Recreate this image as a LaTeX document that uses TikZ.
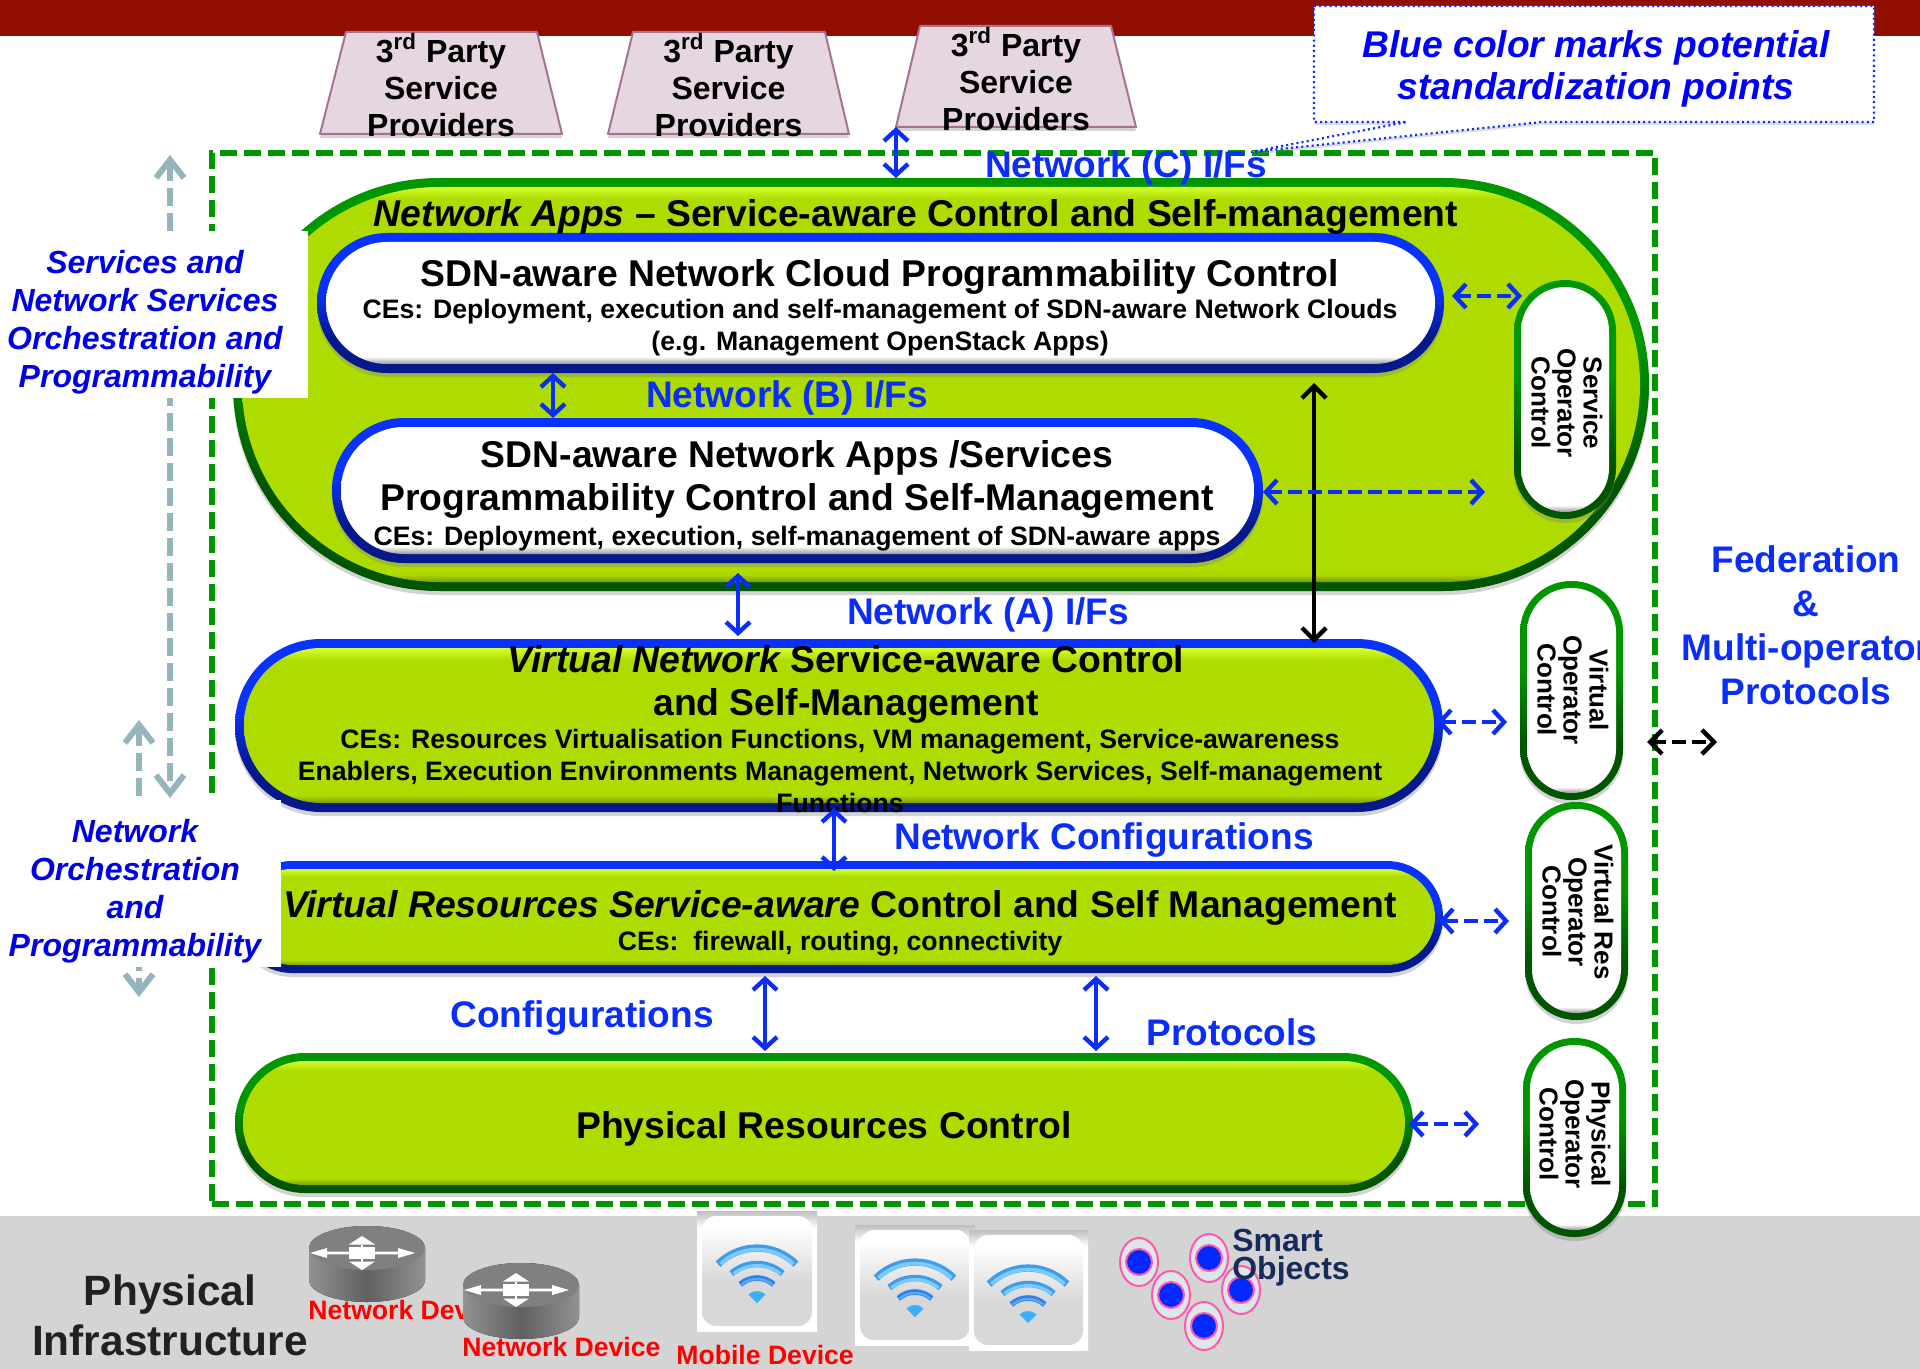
\documentclass[tikz,border=0pt]{standalone}
\usepackage{fontspec}
\setmainfont{Liberation Sans}
\usetikzlibrary{shapes.geometric,arrows.meta,shadows,calc}
\definecolor{banner}{RGB}{145,15,0}
\definecolor{rimbluetop}{RGB}{10,50,255}
\definecolor{rimbluebot}{RGB}{5,25,140}
\definecolor{rimgreentop}{RGB}{0,150,0}
\definecolor{rimgreenbot}{RGB}{0,85,0}
\definecolor{fillgreen}{RGB}{174,219,0}
\definecolor{lightgreen}{RGB}{214,255,45}
\definecolor{darkgreen}{RGB}{125,155,0}
\definecolor{labelblue}{RGB}{10,45,250}
\definecolor{deepblue}{RGB}{0,0,230}
\definecolor{graybar}{RGB}{212,212,212}
\definecolor{trapfill}{RGB}{230,214,223}
\definecolor{trapdraw}{RGB}{165,115,145}
\definecolor{grayarrow}{RGB}{150,180,190}
\definecolor{boxgreen}{RGB}{0,150,0}
\definecolor{smartpink}{RGB}{255,90,170}
\definecolor{smartpale}{RGB}{220,230,235}
\definecolor{smartblue}{RGB}{0,40,255}
\definecolor{navy}{RGB}{23,43,90}
\definecolor{wifia}{RGB}{63,155,235}
\definecolor{wifib}{RGB}{124,203,255}
\definecolor{wific}{RGB}{47,127,232}
\definecolor{wifid}{RGB}{91,166,245}
\definecolor{wifie}{RGB}{60,175,250}
\definecolor{tilelow}{RGB}{216,216,216}
\definecolor{tilebgtop}{RGB}{190,190,190}
\definecolor{whiteedge}{RGB}{150,150,150}
\pgfdeclareverticalshading{rimblue}{100bp}{color(0bp)=(rimbluebot); color(25bp)=(rimbluebot); color(38bp)=(rimbluebot); color(55bp)=(rimbluetop); color(75bp)=(rimbluetop); color(100bp)=(rimbluetop)}
\pgfdeclareverticalshading{rimgreen}{100bp}{color(0bp)=(rimgreenbot); color(25bp)=(rimgreenbot); color(38bp)=(rimgreenbot); color(55bp)=(rimgreentop); color(75bp)=(rimgreentop); color(100bp)=(rimgreentop)}
\pgfdeclareverticalshading{greenbig}{100bp}{color(0bp)=(darkgreen); color(25bp)=(darkgreen); color(26bp)=(fillgreen); color(73.5bp)=(fillgreen); color(75bp)=(lightgreen); color(100bp)=(lightgreen)}
\pgfdeclareverticalshading{greensmall}{100bp}{color(0bp)=(darkgreen); color(25bp)=(darkgreen); color(27.5bp)=(fillgreen); color(71bp)=(fillgreen); color(75bp)=(lightgreen); color(100bp)=(lightgreen)}
\pgfdeclareverticalshading{whitebev}{100bp}{color(0bp)=(whiteedge); color(25bp)=(whiteedge); color(28bp)=(white); color(75bp)=(white); color(100bp)=(white)}
\pgfdeclareverticalshading{whitetall}{100bp}{color(0bp)=(whiteedge); color(25bp)=(whiteedge); color(26.5bp)=(white); color(75bp)=(white); color(100bp)=(white)}
\pgfdeclareverticalshading{tileface}{100bp}{color(0bp)=(tilelow); color(25bp)=(tilelow); color(45bp)=(tilelow); color(70bp)=(white); color(100bp)=(white)}
\pgfdeclareverticalshading{tileback}{100bp}{color(0bp)=(white); color(68bp)=(white); color(75bp)=(tilebgtop); color(100bp)=(tilebgtop)}
\tikzset{
  capbase/.style={rectangle,inner sep=0pt,outer sep=0pt,shade},
  softshadow/.style={drop shadow={shadow xshift=0pt,shadow yshift=-2pt,opacity=.35}},
  heading/.style={font=\fontsize{18.65}{21.5}\selectfont\bfseries,inner sep=0pt,align=center},
  bodytext/.style={font=\fontsize{13.33}{16}\selectfont\bfseries,inner sep=0pt,align=center},
  bluelabel/.style={font=\fontsize{18.5}{21}\selectfont\bfseries,text=labelblue,inner sep=0pt,align=center},
  sidelabel/.style={font=\fontsize{16}{19}\selectfont\bfseries\itshape,text=deepblue,inner sep=0pt,align=center},
  optext/.style={font=\fontsize{13}{13}\selectfont\bfseries,inner sep=0pt,align=center,rotate=-90},
  traptext/.style={font=\fontsize{16}{18.5}\selectfont\bfseries,inner sep=0pt,align=center},
  devlabel/.style={font=\fontsize{13.3}{15}\selectfont\bfseries,text=red,inner sep=0pt,anchor=west},
  trapshape/.style={fill=trapfill,draw=trapdraw,line width=1pt,line join=round,drop shadow={shadow xshift=0pt,shadow yshift=-2pt,opacity=.35}},
  whitepatch/.style={rectangle,fill=white,inner sep=0pt,outer sep=0pt},
  bluedbl/.style={draw=labelblue,line width=2.4pt,{Straight Barb[length=5.5pt,width=12pt,line width=2.2pt]}-{Straight Barb[length=5.5pt,width=12pt,line width=2.2pt]}},
  bluedash/.style={bluedbl,dash pattern=on 7pt off 3pt},
  blackdbl/.style={draw=black,line width=2.2pt,{Straight Barb[length=6pt,width=12pt,line width=2.2pt]}-{Straight Barb[length=6pt,width=12pt,line width=2.2pt]}},
  blackdash/.style={blackdbl,dash pattern=on 7pt off 3pt},
  grayarr/.style={draw=grayarrow,line width=3.2pt,dash pattern=on 9pt off 3.5pt,{Straight Barb[length=9pt,width=14pt,line width=3pt]}-{Straight Barb[length=9pt,width=14pt,line width=3pt]}},
  router/.pic={
    \fill[left color=black!43,right color=black!43,middle color=black!62] (-58,0) -- (-58,32) arc[start angle=180,end angle=0,x radius=58,y radius=22] -- (58,0) arc[start angle=0,end angle=-180,x radius=58,y radius=22] -- cycle;
    \fill[black!50] (0,0) ellipse [x radius=58,y radius=22];
    \fill[white] (-57,5) -- (-40,0) -- (-40,3.7) -- (31,3.7) -- (31,0) -- (48,5) -- (31,10) -- (31,6.3) -- (-40,6.3) -- (-40,10) -- cycle;
    \fill[white] (-5,-12) -- (8,-3.5) -- (-18,-3.5) -- cycle;
    \fill[white] (-5,22) -- (8,13.5) -- (-18,13.5) -- cycle;
    \fill[white] (-6,-3.5) rectangle (-4,13.5);
    \fill[white] (-18,-1) rectangle (8,11);
  },
  wifi/.pic={
    \draw[wifia,line width=3.6pt] (-135:55) arc[start angle=-135,end angle=-45,radius=55];
    \draw[wifib,line width=1.8pt] (-133:53.5) arc[start angle=-133,end angle=-47,radius=53.5];
    \draw[wifia,line width=3.2pt] (-131:39) arc[start angle=-131,end angle=-49,radius=39];
    \draw[wifib,line width=1.5pt] (-129:37.5) arc[start angle=-129,end angle=-51,radius=37.5];
    \draw[wific,line width=2.8pt] (-132:25) arc[start angle=-132,end angle=-48,radius=25];
    \draw[wifid,line width=1.2pt] (-130:24) arc[start angle=-130,end angle=-50,radius=24];
    \fill[wifie] (0,0) -- (-135:12) arc[start angle=-135,end angle=-45,radius=12] -- cycle;
  },
  smartobj/.pic={
    \draw[smartpink,fill=smartpale,line width=1pt] (0,0) ellipse [x radius=19,y radius=24];
    \draw[smartpink,fill=smartblue,line width=1pt] (0,0) circle [radius=13];
  }
}
\newcommand\capsule[9]{%
  \pgfmathsetmacro\capcx{(#2+#4)/2}%
  \pgfmathsetmacro\capcy{(#3+#5)/2}%
  \node[capbase,shading=#8,softshadow,minimum width={(#4-(#2))*0.5pt},minimum height={(#5-(#3))*0.5pt},rounded corners={(#6)*0.5pt}] (#1) at (\capcx,\capcy) {};
  \node[capbase,shading=#9,minimum width={(#4-(#2)-2*(#7))*0.5pt},minimum height={(#5-(#3)-2*(#7))*0.5pt},rounded corners={(#6-(#7))*0.5pt}] (#1in) at (\capcx,\capcy) {};
}
\newcommand\wifitile[7]{%
  \node[capbase,shading=tileback,minimum width={(#4-(#2))*0.5pt},minimum height={(#5-(#3))*0.5pt}] (#1bg) at ({(#2+#4)/2},{(#3+#5)/2}) {};
  \node[capbase,shading=tileface,minimum width={(#4-(#2)-10)*0.5pt},minimum height={(#5-(#3)-10)*0.5pt},rounded corners=7pt] (#1) at ({(#2+#4)/2},{(#3+#5)/2}) {};
  \pic at (#6,#7) {wifi};
}
\begin{document}
\begin{tikzpicture}[x=0.5pt,y=-0.5pt]
\useasboundingbox (0,0) rectangle (1920,1369);
% background bands
\node[whitepatch,fill=banner,minimum width=960pt,minimum height=18pt] (bannerbar) at (960,18) {};
\node[whitepatch,fill=graybar,minimum width=960pt,minimum height=76.5pt] (groundbar) at (960,1292.5) {};

% orchestration arrows, behind the dashed frame and the white patches
\coordinate (svcTop) at (170,155);
\coordinate (svcBot) at (170,798);
\coordinate (netTop) at (139,720);
\coordinate (netBot) at (139,997);
\draw[grayarr] (svcTop) -- (svcBot);
\draw[grayarr] (netTop) -- (netBot);

% dashed frame
\node[rectangle,inner sep=0pt,outer sep=0pt,draw=boxgreen,line width=2.8pt,dash pattern=on 8.5pt off 3.5pt,minimum width=721.5pt,minimum height=525.5pt] (frame) at (933.5,678.5) {};

% third-party providers
\draw[trapshape] (346,32) -- (537,32) -- (562,134) -- (320,134) -- cycle;
\draw[trapshape] (633,32) -- (825,32) -- (849,134) -- (608,134) -- cycle;
\draw[trapshape] (920,26) -- (1111,26) -- (1136,127) -- (896,127) coordinate (t3corner) -- cycle;
\node[traptext] (t1txt) at (441,85) {3\textsuperscript{rd} Party\\Service\\Providers};
\node[traptext] (t2txt) at (728.5,85) {3\textsuperscript{rd} Party\\Service\\Providers};
\node[traptext] (t3txt) at (1016,79) {3\textsuperscript{rd} Party\\Service\\Providers};

% main blocks
\capsule{apps}{233}{178}{1649}{591}{206}{9}{rimgreen}{greenbig}
\capsule{sdn}{317}{233}{1444}{373}{70}{9}{rimblue}{whitebev}
\capsule{appsbox}{332}{418}{1263}{563}{72}{9}{rimblue}{whitebev}
\capsule{soc}{1514}{280}{1616}{519}{51}{7}{rimgreen}{whitetall}
\capsule{vn}{235}{639}{1443}{812}{86}{9}{rimblue}{greensmall}
\capsule{vr}{236}{861}{1443}{973}{56}{8}{rimblue}{greensmall}
\capsule{phys}{235}{1053}{1413}{1193}{70}{8}{rimgreen}{greensmall}
\capsule{voc}{1520}{581}{1623}{800}{51}{7}{rimgreen}{whitetall}
\capsule{vroc}{1525}{802}{1628}{1020}{51}{7}{rimgreen}{whitetall}
\capsule{poc}{1523}{1038}{1626}{1237}{51}{7}{rimgreen}{whitetall}

% white label patches
\node[whitepatch,minimum width=154pt,minimum height=83.5pt] (svcpatch) at (154,314.5) {};
\node[whitepatch,minimum width=140.5pt,minimum height=83.5pt] (netpatch) at (140.5,883.5) {};

% block texts
\node[heading] (appstitle) at (916,217) {{\itshape Network Apps} -- Service-aware Control and Self-management};
\node[heading] (sdnt) at (880,277) {SDN-aware Network Cloud Programmability Control};
\node[bodytext] (sdnb) at (880,328) {CEs: Deployment, execution and self-management of SDN-aware Network Clouds\\(e.g. Management OpenStack Apps)};
\node[heading] (appst) at (797,479) {SDN-aware Network Apps /Services\\Programmability Control and Self-Management};
\node[bodytext] (appsb) at (797,539) {CEs: Deployment, execution, self-management of SDN-aware apps};
\node[heading] (vnt) at (846,684) {{\itshape Virtual Network} Service-aware Control\\and Self-Management};
\node[bodytext] (vnb) at (840,771) {CEs: Resources Virtualisation Functions, VM management, Service-awareness\\Enablers, Execution Environments Management, Network Services, Self-management\\Functions};
\node[heading] (vrt) at (840,908) {{\itshape Virtual Resources Service-aware} Control and Self Management};
\node[bodytext] (vrb) at (840,944) {CEs:\ \ firewall, routing, connectivity};
\node[heading] (physt) at (824,1129) {Physical Resources Control};
\node[optext] (soct) at (1567,403) {Service\\Operator\\Control};
\node[optext] (voct) at (1573,690) {Virtual\\Operator\\Control};
\node[optext] (vroct) at (1578,912) {Virtual Res\\Operator\\Control};
\node[optext] (poct) at (1575,1134) {Physical\\Operator\\Control};

% vertical connectors
\coordinate (colB) at (553,0);
\coordinate (colA) at (738,0);
\coordinate (colN) at (834,0);
\coordinate (colC) at (765,0);
\coordinate (colP) at (1096,0);
\coordinate (colK) at (1314,0);
\draw[bluedbl] (t3corner) -- (t3corner |- apps.north);
\draw[bluedbl] (sdn.south -| colB) -- (appsbox.north -| colB);
\draw[bluedbl,shorten <=-9pt,shorten >=1.5pt] (apps.south -| colA) -- (vn.north -| colA);
\draw[bluedbl,shorten <=-2pt,shorten >=-5pt] (vn.south -| colN) -- (vr.north -| colN);
\draw[bluedbl,shorten <=1.5pt,shorten >=1pt] (vr.south -| colC) -- (phys.north -| colC);
\draw[bluedbl,shorten <=1.5pt,shorten >=1pt] (vr.south -| colP) -- (phys.north -| colP);
\draw[blackdbl,shorten <=5pt,shorten >=-2pt] (sdn.south -| colK) -- (vn.north -| colK);

% horizontal connectors
\coordinate (rowD1) at (0,296);
\coordinate (rowD2) at (0,492);
\coordinate (rowD3) at (0,722);
\coordinate (rowD4) at (0,921);
\coordinate (rowD5) at (0,1124);
\coordinate (rowD6) at (0,742);
\coordinate (endD2) at (1485,492);
\coordinate (endD3) at (1507,722);
\coordinate (endD4) at (1509,921);
\coordinate (endD5) at (1479,1124);
\coordinate (endD6) at (1717,742);
\draw[bluedash,shorten <=4pt,shorten >=-4pt] (sdn.east |- rowD1) -- (soc.west |- rowD1);
\draw[bluedash] (appsbox.east |- rowD2) -- (endD2);
\draw[bluedash,shorten <=-3pt] (vn.east |- rowD3) -- (endD3);
\draw[bluedash,shorten <=-2pt] (vr.east |- rowD4) -- (endD4);
\draw[bluedash,shorten <=-2pt] (phys.east |- rowD5) -- (endD5);
\draw[blackdash,shorten <=-4pt] (frame.east |- rowD6) -- (endD6);

% blue labels
\node[bluelabel] (ifc) at (1126,168) {Network (C) I/Fs};
\node[bluelabel] (ifb) at (787,398) {Network (B) I/Fs};
\node[bluelabel] (ifa) at (988,615) {Network (A) I/Fs};
\node[bluelabel] (netconf) at (1104,840) {Network Configurations};
\node[bluelabel] (conf) at (582,1018) {Configurations};
\node[bluelabel] (prot) at (1232,1032) {Protocols};
\node[bluelabel,font=\fontsize{18.5}{22}\selectfont\bfseries] (fed) at (1806,625) {Federation\\\&\\Multi-operator\\Protocols};
\node[sidelabel] (svc) at (145,322) {Services and\\Network Services\\Orchestration and\\Programmability};
\node[sidelabel] (net) at (135,891) {Network\\Orchestration\\and\\Programmability};

% note with its callout
\draw[fill=white,draw=labelblue,line width=1.1pt,dash pattern=on 1pt off 1.6pt,drop shadow={shadow xshift=0pt,shadow yshift=-1.5pt,opacity=.25}] (1314,6) -- (1874,6) -- (1874,122) -- (1542,122) -- (1251,152) -- (1407,122) -- (1314,122) -- cycle;
\node[sidelabel,font=\fontsize{18.6}{21}\selectfont\bfseries\itshape,text=blue] (note) at (1596,69) {Blue color marks potential\\standardization points};

% physical infrastructure
\node[font=\fontsize{21.2}{25}\selectfont\bfseries,text=black!87,inner sep=0pt,align=center] (phystxt) at (170,1315) {Physical\\Infrastructure};
\pic at (367,1248) {router};
\node[devlabel] (dev1) at (308,1310) {Network Device};
\pic at (521,1285) {router};
\node[devlabel] (dev2) at (462,1347) {Network Device};
\node[devlabel] (dev3) at (676,1355) {Mobile Device};
\wifitile{wa}{697}{1211}{817}{1331}{757}{1303}
\wifitile{wb}{855}{1225}{975}{1345}{915}{1317}
\wifitile{wc}{969}{1230}{1088}{1350}{1028}{1323}
\pic at (1241,1290) {smartobj};
\pic at (1209,1258) {smartobj};
\pic at (1139,1262) {smartobj};
\pic at (1171,1295) {smartobj};
\pic at (1204,1326) {smartobj};
\node[font=\fontsize{16}{14}\selectfont\bfseries,text=navy,inner sep=0pt,align=left] (smart) at (1291,1258) {Smart\\Objects};
\end{tikzpicture}
\end{document}
